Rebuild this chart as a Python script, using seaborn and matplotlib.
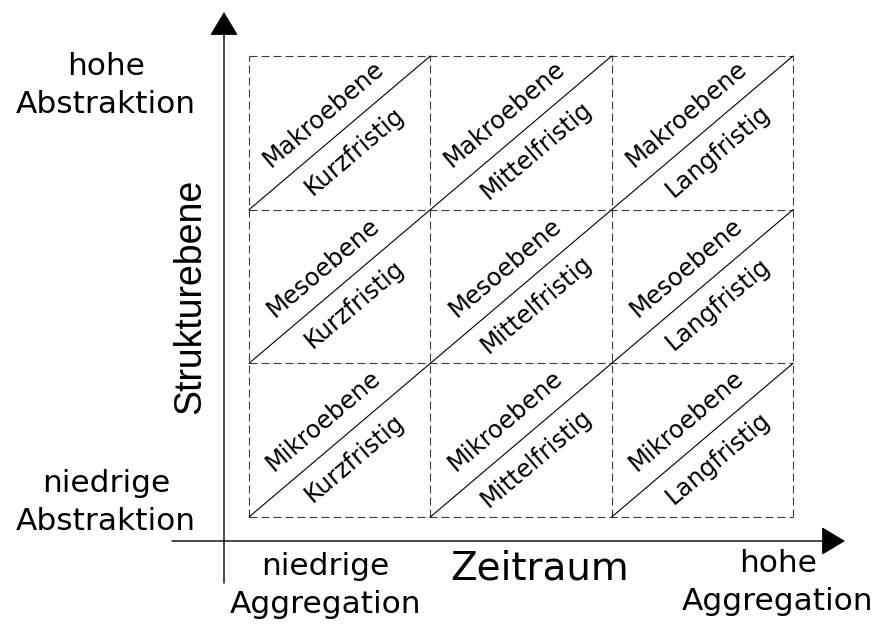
import numpy as np
import pandas as pd
import matplotlib
matplotlib.use('Agg')
import matplotlib.pyplot as plt
import seaborn as sns

# grid content: columns = time horizon, rows = structure level (top to bottom)
zeitraum = ['Kurzfristig', 'Mittelfristig', 'Langfristig']
ebenen = ['Makroebene', 'Mesoebene', 'Mikroebene']

y_titel = 'Strukturebene'
x_titel = 'Zeitraum'
y_oben = 'hohe\nAbstraktion'
y_unten = 'niedrige\nAbstraktion'
x_links = 'niedrige\nAggregation'
x_rechts = 'hohe\nAggregation'

sns.set_theme(style='white')
plt.rcParams['font.family'] = ['DejaVu Sans']
plt.rcParams['text.color'] = 'black'

W, H = 879, 624
fig = plt.figure(figsize=(W / 100, H / 100), dpi=100)
# axes covers exactly the 3x3 grid (pixel box 249..793, 56..517)
ax = fig.add_axes([249 / W, (H - 517) / H, (793 - 249) / W, (517 - 56) / H])
n_cols, n_rows = len(zeitraum), len(ebenen)
ax.set_xlim(0, n_cols)
ax.set_ylim(0, n_rows)
ax.axis('off')

# dashed cell borders
grid_kw = dict(color='#3a3a3a', lw=0.8, linestyle=(0, (7.2, 3.6)), clip_on=False)
ax.hlines(range(n_rows + 1), 0, n_cols, **grid_kw)
ax.vlines(range(n_cols + 1), 0, n_rows, **grid_kw)

# diagonals in every cell
rows = []
k = 0
for r in range(n_rows):
    for c in range(n_cols):
        rows.append({'cell': k, 'x': c, 'y': r})
        rows.append({'cell': k, 'x': c + 1, 'y': r + 1})
        k += 1
diag = pd.DataFrame(rows)
sns.lineplot(data=diag, x='x', y='y', units='cell', estimator=None, sort=False,
             color='black', lw=0.8, ax=ax, legend=False)
for l in ax.lines:
    l.set_clip_on(False)

# angle of the diagonal on screen
fig.canvas.draw()
bb = ax.get_window_extent()
ang = np.degrees(np.arctan2(bb.height / n_rows, bb.width / n_cols))
nx, ny = -np.sin(np.radians(ang)), np.cos(np.radians(ang))

for r, ebene in enumerate(ebenen):
    yc = n_rows - r - 0.5
    for c, zr in enumerate(zeitraum):
        xc = c + 0.5
        ax.annotate(ebene, (xc, yc), xytext=(nx * 18, ny * 18), textcoords='offset points',
                    rotation=ang, rotation_mode='anchor', ha='center', va='center',
                    fontsize=17.5)
        ax.annotate(zr, (xc, yc), xytext=(-nx * 17, -ny * 17), textcoords='offset points',
                    rotation=ang, rotation_mode='anchor', ha='center', va='center',
                    fontsize=17.5)

# axes arrows
cw, ch = bb.width / n_cols, bb.height / n_rows
arrow_kw = dict(arrowstyle='-|>,head_length=1.5,head_width=0.9', mutation_scale=10,
                color='black', lw=1, shrinkA=0, shrinkB=0)
ax.annotate('', xy=(-25 / cw, 3 + 44 / ch), xytext=(-25 / cw, -66 / ch),
            arrowprops=arrow_kw, annotation_clip=False)
ax.annotate('', xy=(3 + 52 / cw, -24 / ch), xytext=(-77 / cw, -24 / ch),
            arrowprops=arrow_kw, annotation_clip=False)

# axis titles
ax.text(-59 / cw, 221 / ch, y_titel, rotation=90, ha='center', va='center',
        fontsize=27, family='Liberation Sans')
ax.text(291 / cw, -62 / ch, x_titel, ha='center', va='baseline', fontsize=28)

# two-line labels, anchored at the baseline of their last line
lab_kw = dict(ha='center', va='baseline', fontsize=22.5, linespacing=1.4,
              multialignment='center')
ax.text(-143 / cw, (517 - 113) / ch, y_oben, **lab_kw)
ax.text(-143 / cw, (517 - 530) / ch, y_unten, **lab_kw)
ax.text(76 / cw, (517 - 613) / ch, x_links, **lab_kw)
ax.text(529 / cw, (517 - 610) / ch, x_rechts, **lab_kw)

fig.savefig('out.png', dpi=100)
